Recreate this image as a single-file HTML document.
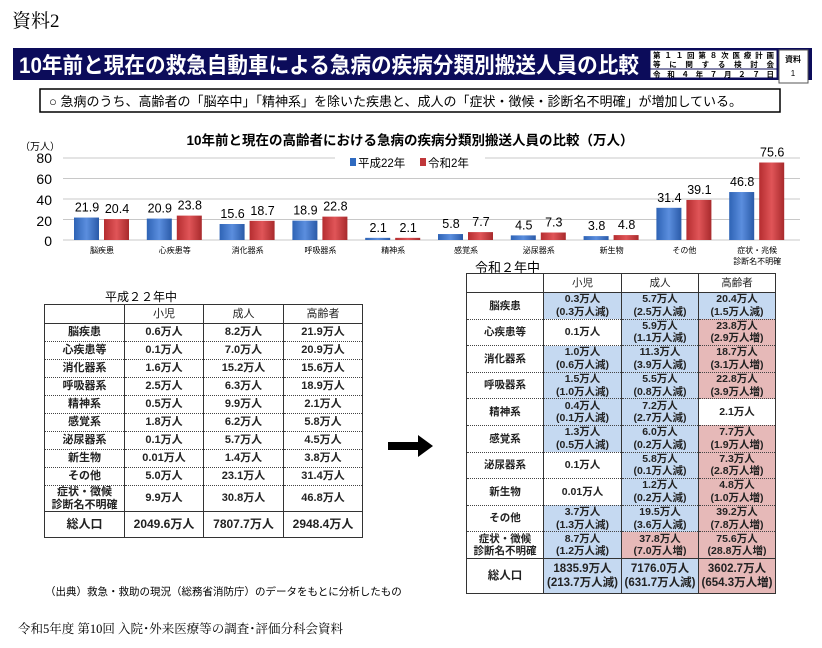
<!DOCTYPE html>
<html><head><meta charset="utf-8">
<style>
body{margin:0;background:#fff;}
#p{position:relative;width:822px;height:648px;overflow:hidden;font-family:"Liberation Sans","Noto Sans CJK JP",sans-serif;color:#000;}
.a{position:absolute;}
table{border-collapse:collapse;position:absolute;table-layout:fixed;}
td{text-align:center;font-size:11px;font-weight:bold;border-left:1px solid #333;border-right:1px solid #333;border-bottom:1px dotted #444;padding:0;line-height:12.5px;color:#222;}
#rt td{font-size:10.5px;line-height:12.5px;}
tr.h td{font-weight:normal;border-bottom:1px solid #333;}
tr.t td{border-top:1.5px solid #333;font-size:12px;}
#rt tr.t td{font-size:11.5px;line-height:14px;}
.b{background:#c5d9f1;}
.r{background:#e6b9b8;}
</style></head><body><div id="p">
<div class="a" style="left:12px;top:6px;font-size:19px;font-family:'Liberation Serif','Noto Serif CJK SC',serif;">資料2</div>
<svg class="a" style="left:0;top:0" width="822" height="648">
<rect x="13" y="48" width="799" height="32" fill="#0c0c5a"/>
<text x="19" y="73" fill="#fff" font-size="22" font-weight="bold" textLength="620" lengthAdjust="spacingAndGlyphs">10年前と現在の救急自動車による急病の疾病分類別搬送人員の比較</text>
<rect x="650" y="50" width="127" height="28" fill="#fff" stroke="#0c0c5a"/>
<line x1="650" y1="69" x2="777" y2="69" stroke="#0c0c5a"/>
<text x="653" y="58" font-size="7.5" font-weight="bold" textLength="121">第１１回第８次医療計画</text>
<text x="653" y="67" font-size="7.5" font-weight="bold" textLength="121">等に関する検討会</text>
<text x="653" y="77" font-size="7.5" font-weight="bold" textLength="121">令和４年７月２７日</text>
<rect x="779" y="50" width="29" height="33" fill="#fff" stroke="#555"/>
<text x="793" y="62" font-size="8" font-weight="bold" text-anchor="middle">資料</text>
<text x="793" y="76" font-size="8" text-anchor="middle">1</text>
<rect x="40" y="89" width="740" height="23" fill="#fff" stroke="#000" stroke-width="1.5"/>
<text x="49" y="106" font-size="13">○  急病のうち、高齢者の「脳卒中」「精神系」を除いた疾患と、成人の「症状・徴候・診断名不明確」が増加している。</text>
<text x="410" y="145" font-size="13.5" font-weight="bold" text-anchor="middle">10年前と現在の高齢者における急病の疾病分類別搬送人員の比較（万人）</text>
<text x="20" y="150" font-size="10">（万人）</text>
<g font-size="14" text-anchor="end"><text x="52" y="163">80</text><text x="52" y="184">60</text><text x="52" y="205">40</text><text x="52" y="226">20</text><text x="52" y="246">0</text></g>
<g stroke="#c8c8c8"><line x1="63" y1="158" x2="800" y2="158"/><line x1="63" y1="178.5" x2="800" y2="178.5"/><line x1="63" y1="199" x2="800" y2="199"/><line x1="63" y1="219.5" x2="800" y2="219.5"/><line x1="63" y1="240" x2="800" y2="240"/></g>
<rect x="335" y="154" width="150" height="18" fill="#fff"/>
<rect x="350" y="158" width="6" height="8" fill="#2f6ac0"/><text x="358" y="167" font-size="11.5">平成22年</text>
<rect x="420" y="158" width="6" height="8" fill="#c0373a"/><text x="428" y="167" font-size="11.5">令和2年</text>
<defs>
<linearGradient id="gb" x1="0" x2="1"><stop offset="0" stop-color="#2e63b5"/><stop offset=".5" stop-color="#5b8ede"/><stop offset="1" stop-color="#2a5aa8"/></linearGradient>
<linearGradient id="gr" x1="0" x2="1"><stop offset="0" stop-color="#b52d30"/><stop offset=".5" stop-color="#e05558"/><stop offset="1" stop-color="#a82a2c"/></linearGradient>
</defs>
<g id="bars"></g>
<text x="475" y="272" font-size="13">令和２年中</text>
<text x="105" y="301" font-size="12">平成２２年中</text>
<text x="45" y="595" font-size="10.5">（出典）救急・救助の現況（総務省消防庁）のデータをもとに分析したもの</text>
<text x="18" y="633" font-size="12.5" font-family="'Liberation Serif','Noto Serif CJK SC',serif">令和5年度 第10回 入院･外来医療等の調査･評価分科会資料</text>
<polygon points="388,442 418,442 418,435 433,446 418,457 418,450 388,450" fill="#000"/>
</svg>
<table style="left:44px;top:304px;width:318px;border:1.5px solid #333;">
<colgroup><col style="width:80px"><col style="width:79px"><col style="width:80px"><col style="width:79px"></colgroup>
<tr class="h" style="height:19px"><td></td><td>小児</td><td>成人</td><td>高齢者</td></tr>
<tr style="height:18px"><td>脳疾患</td><td>0.6万人</td><td>8.2万人</td><td>21.9万人</td></tr>
<tr style="height:18px"><td>心疾患等</td><td>0.1万人</td><td>7.0万人</td><td>20.9万人</td></tr>
<tr style="height:18px"><td>消化器系</td><td>1.6万人</td><td>15.2万人</td><td>15.6万人</td></tr>
<tr style="height:18px"><td>呼吸器系</td><td>2.5万人</td><td>6.3万人</td><td>18.9万人</td></tr>
<tr style="height:18px"><td>精神系</td><td>0.5万人</td><td>9.9万人</td><td>2.1万人</td></tr>
<tr style="height:18px"><td>感覚系</td><td>1.8万人</td><td>6.2万人</td><td>5.8万人</td></tr>
<tr style="height:18px"><td>泌尿器系</td><td>0.1万人</td><td>5.7万人</td><td>4.5万人</td></tr>
<tr style="height:18px"><td>新生物</td><td>0.01万人</td><td>1.4万人</td><td>3.8万人</td></tr>
<tr style="height:18px"><td>その他</td><td>5.0万人</td><td>23.1万人</td><td>31.4万人</td></tr>
<tr style="height:26px"><td>症状・徴候<br>診断名不明確</td><td>9.9万人</td><td>30.8万人</td><td>46.8万人</td></tr>
<tr class="t" style="height:26px"><td>総人口</td><td>2049.6万人</td><td>7807.7万人</td><td>2948.4万人</td></tr>
</table>
<table id="rt" style="left:466px;top:273px;width:309px;border:1.5px solid #333;">
<colgroup><col style="width:77px"><col style="width:78px"><col style="width:77px"><col style="width:77px"></colgroup>
<tr class="h" style="height:19px"><td></td><td>小児</td><td>成人</td><td>高齢者</td></tr>
<tr style="height:26.6px"><td>脳疾患</td><td class="b">0.3万人<br>(0.3万人減)</td><td class="b">5.7万人<br>(2.5万人減)</td><td class="b">20.4万人<br>(1.5万人減)</td></tr>
<tr style="height:26.6px"><td>心疾患等</td><td>0.1万人</td><td class="b">5.9万人<br>(1.1万人減)</td><td class="r">23.8万人<br>(2.9万人増)</td></tr>
<tr style="height:26.6px"><td>消化器系</td><td class="b">1.0万人<br>(0.6万人減)</td><td class="b">11.3万人<br>(3.9万人減)</td><td class="r">18.7万人<br>(3.1万人増)</td></tr>
<tr style="height:26.6px"><td>呼吸器系</td><td class="b">1.5万人<br>(1.0万人減)</td><td class="b">5.5万人<br>(0.8万人減)</td><td class="r">22.8万人<br>(3.9万人増)</td></tr>
<tr style="height:26.6px"><td>精神系</td><td class="b">0.4万人<br>(0.1万人減)</td><td class="b">7.2万人<br>(2.7万人減)</td><td>2.1万人</td></tr>
<tr style="height:26.6px"><td>感覚系</td><td class="b">1.3万人<br>(0.5万人減)</td><td class="b">6.0万人<br>(0.2万人減)</td><td class="r">7.7万人<br>(1.9万人増)</td></tr>
<tr style="height:26.6px"><td>泌尿器系</td><td>0.1万人</td><td class="b">5.8万人<br>(0.1万人減)</td><td class="r">7.3万人<br>(2.8万人増)</td></tr>
<tr style="height:26.6px"><td>新生物</td><td>0.01万人</td><td class="b">1.2万人<br>(0.2万人減)</td><td class="r">4.8万人<br>(1.0万人増)</td></tr>
<tr style="height:26.6px"><td>その他</td><td class="b">3.7万人<br>(1.3万人減)</td><td class="b">19.5万人<br>(3.6万人減)</td><td class="r">39.2万人<br>(7.8万人増)</td></tr>
<tr style="height:26.6px"><td>症状・徴候<br>診断名不明確</td><td class="b">8.7万人<br>(1.2万人減)</td><td class="r">37.8万人<br>(7.0万人増)</td><td class="r">75.6万人<br>(28.8万人増)</td></tr>
<tr class="t" style="height:35px"><td>総人口</td><td class="b">1835.9万人<br>(213.7万人減)</td><td class="b">7176.0万人<br>(631.7万人減)</td><td class="r">3602.7万人<br>(654.3万人増)</td></tr>
</table>
<script>
var d=[["脳疾患",21.9,20.4],["心疾患等",20.9,23.8],["消化器系",15.6,18.7],["呼吸器系",18.9,22.8],["精神系",2.1,2.1],["感覚系",5.8,7.7],["泌尿器系",4.5,7.3],["新生物",3.8,4.8],["その他",31.4,39.1],["症状・兆候",46.8,75.6]];
var s="";
d.forEach(function(e,i){var c=102+72.8*i;
var h1=e[1]*1.025,h2=e[2]*1.025;
s+='<rect x="'+(c-28)+'" y="'+(240-h1)+'" width="25" height="'+h1+'" fill="url(#gb)"/>';
s+='<rect x="'+(c+2)+'" y="'+(240-h2)+'" width="25" height="'+h2+'" fill="url(#gr)"/>';
s+='<text x="'+(c-15)+'" y="'+(240-h1-6)+'" font-size="12.5" text-anchor="middle">'+e[1].toFixed(1)+'</text>';
s+='<text x="'+(c+15)+'" y="'+(240-h2-6)+'" font-size="12.5" text-anchor="middle">'+e[2].toFixed(1)+'</text>';
s+='<text x="'+c+'" y="253" font-size="8" text-anchor="middle">'+e[0]+'</text>';
if(i==9)s+='<text x="'+c+'" y="264" font-size="8" text-anchor="middle">診断名不明確</text>';
});
document.getElementById("bars").innerHTML=s;
</script>
</div></body></html>
